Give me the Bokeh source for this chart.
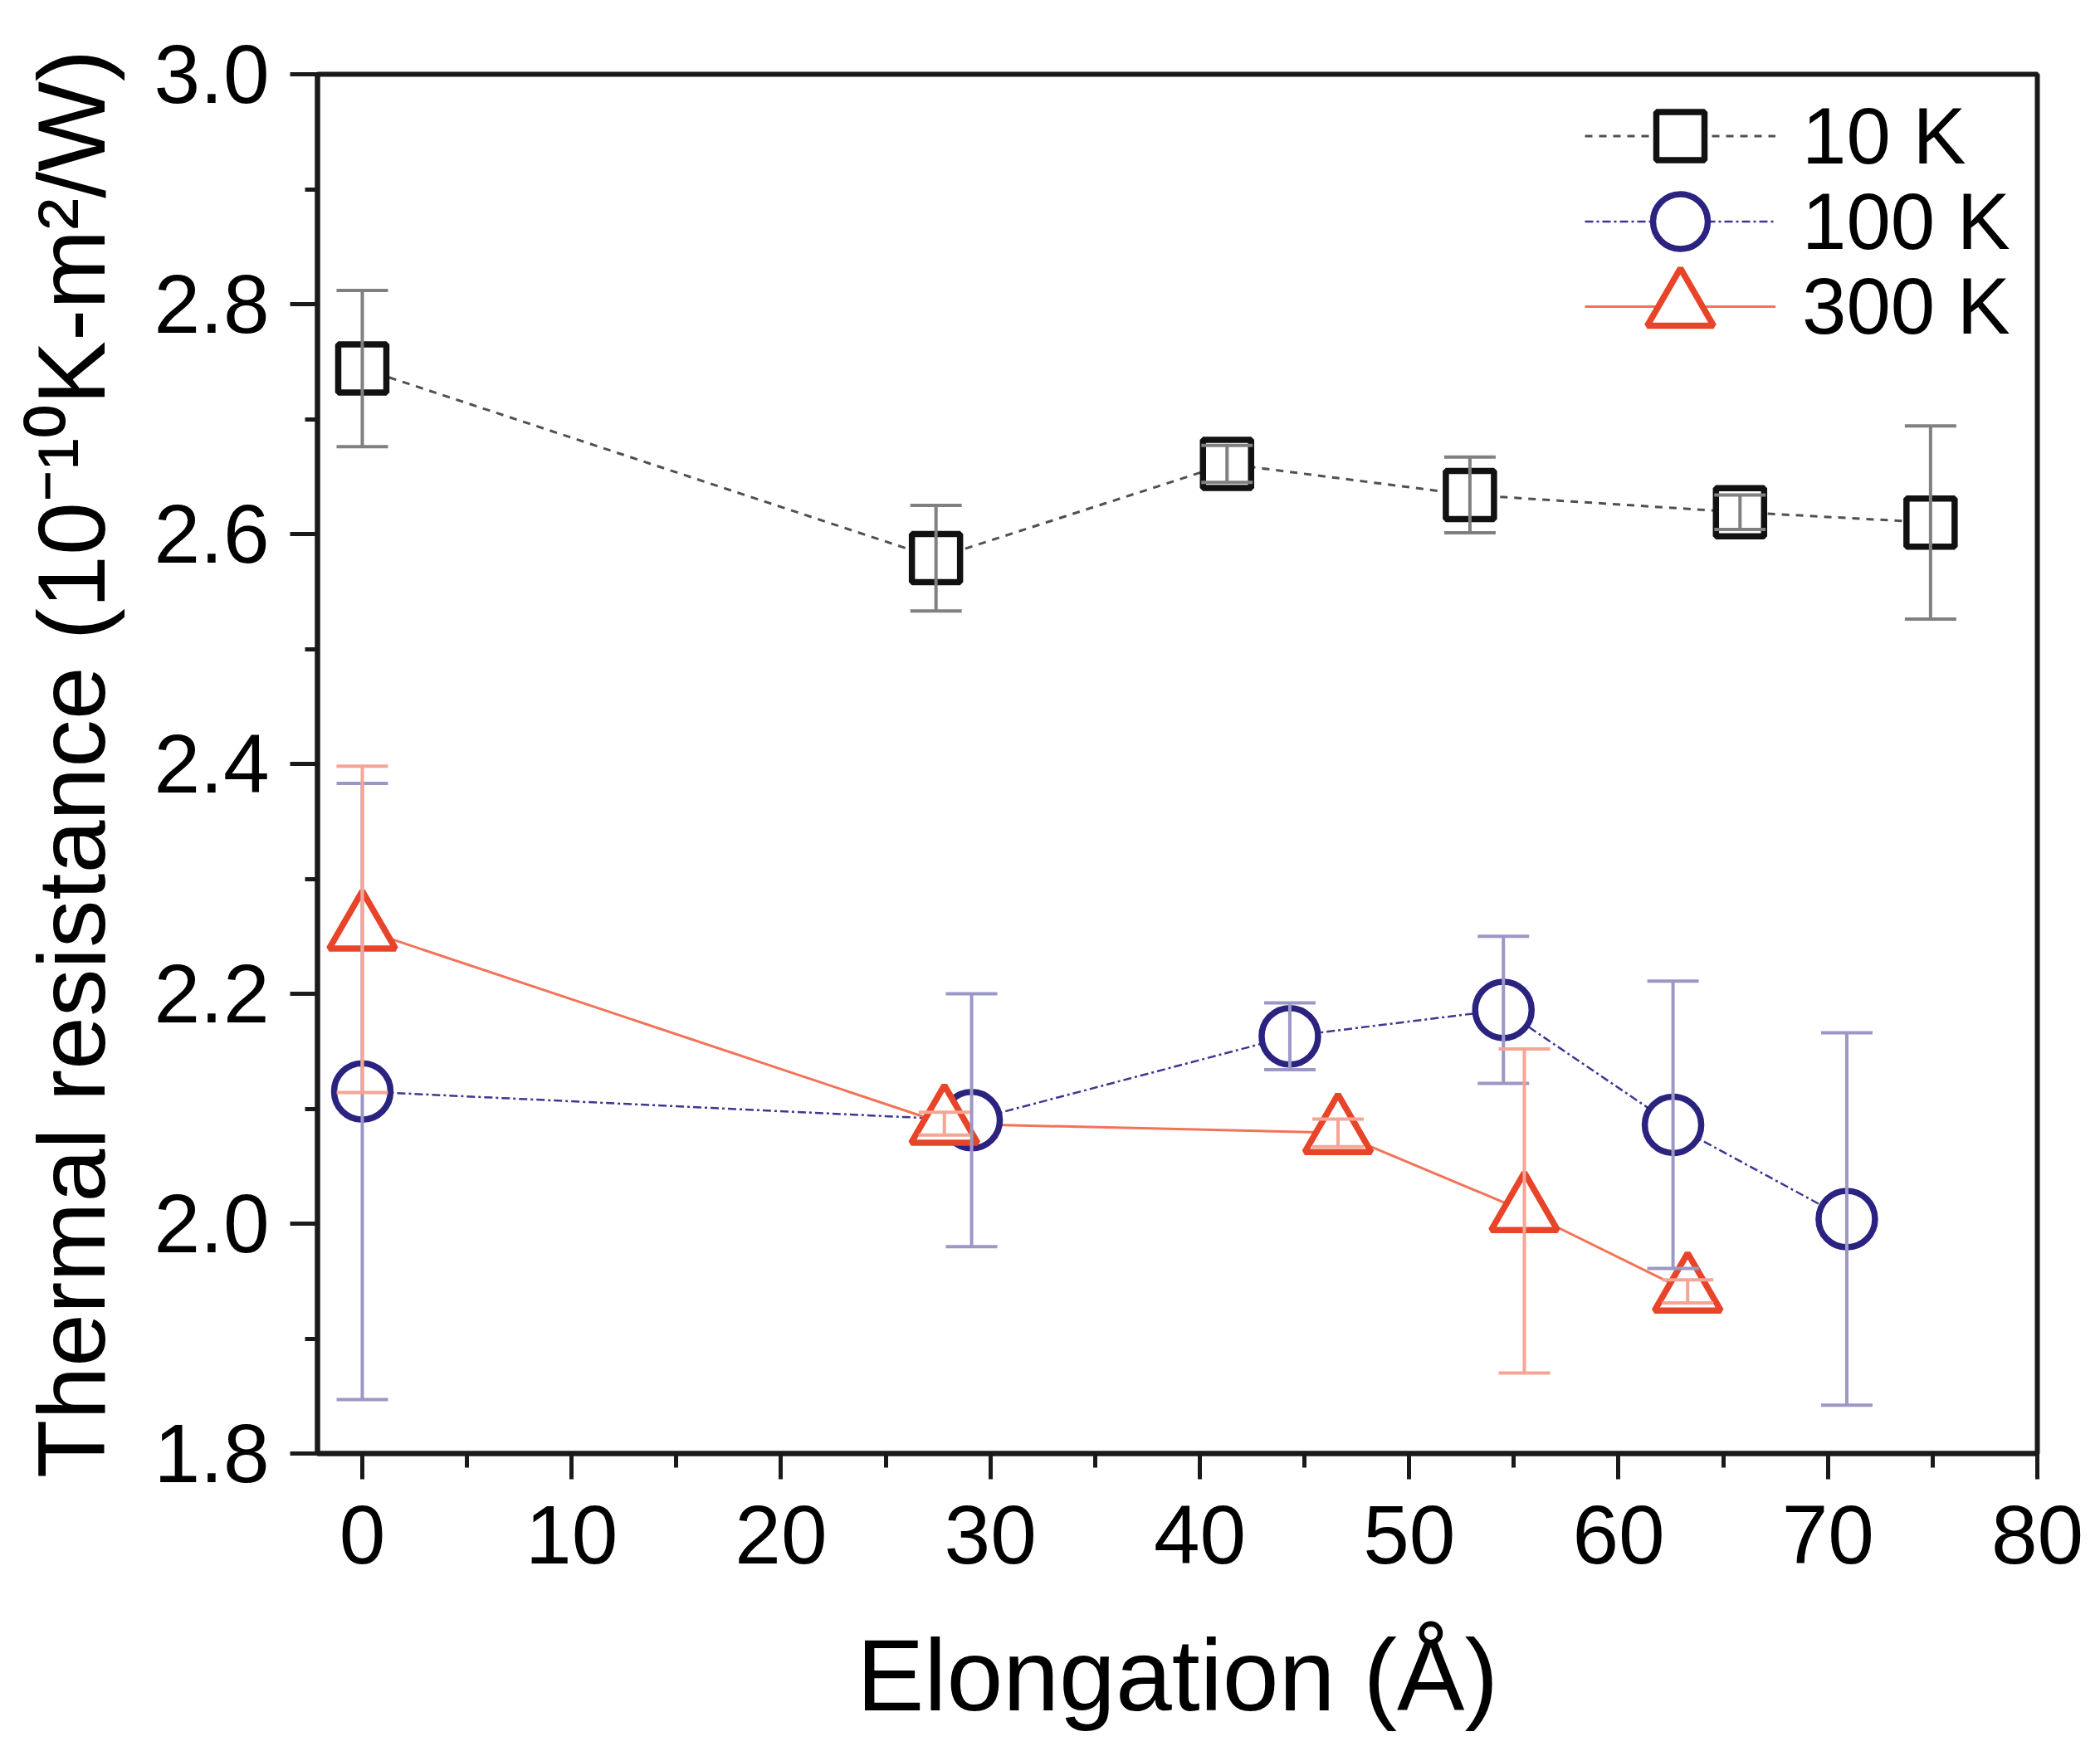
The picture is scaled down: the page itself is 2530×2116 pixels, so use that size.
from bokeh.plotting import figure
from bokeh.models import (ColumnDataSource, Whisker, TeeHead, Legend, LegendItem,
                          FixedTicker, NumeralTickFormatter, Range1d)
from bokeh.embed import file_html
from bokeh.resources import INLINE

# ---------------- data ----------------
x_10K = [0.0, 27.4, 41.3, 52.9, 65.8, 74.9]
y_10K = [2.744, 2.579, 2.661, 2.634, 2.619, 2.610]
e_10K = [0.068, 0.046, 0.016, 0.033, 0.015, 0.084]

x_100K = [0.0, 29.1, 44.3, 54.5, 62.6, 70.9]
y_100K = [2.115, 2.090, 2.163, 2.186, 2.086, 2.004]
e_100K = [0.268, 0.110, 0.029, 0.064, 0.125, 0.162]

x_300K = [0.0, 27.8, 46.6, 55.5, 63.3]
y_300K = [2.256, 2.087, 2.079, 2.011, 1.941]
e_300K = [0.142, 0.010, 0.012, 0.141, 0.010]

series_labels = ["10 K", "100 K", "300 K"]
x_ticks = [0, 10, 20, 30, 40, 50, 60, 70, 80]
x_minor = [5, 15, 25, 35, 45, 55, 65, 75]
y_ticks = [1.8, 2.0, 2.2, 2.4, 2.6, 2.8, 3.0]
y_minor = [1.9, 2.1, 2.3, 2.5, 2.7, 2.9]
x_title = "Elongation (Å)"
y_title = "Thermal resistance (10⁻¹⁰K-m²/W)"

FONT = "Liberation Sans"

p = figure(width=2514, height=2100,
           x_range=Range1d(-2.14, 80), y_range=Range1d(1.8, 3.0),
           output_backend="svg", toolbar_location=None,
           min_border_left=382, min_border_right=60,
           min_border_top=89, min_border_bottom=349)
p.grid.visible = False
p.background_fill_color = "white"
p.border_fill_color = "white"
p.outline_line_color = "#1a1a1a"
p.outline_line_width = 6

for ax in (p.xaxis[0], p.yaxis[0]):
    ax.axis_line_width = 6
    ax.axis_line_color = "#1a1a1a"
    ax.major_tick_in = 0
    ax.minor_tick_in = 0
    ax.major_tick_line_width = 5
    ax.minor_tick_line_width = 5
    ax.major_tick_line_color = "#1a1a1a"
    ax.minor_tick_line_color = "#1a1a1a"
    ax.major_label_text_font = FONT
    ax.major_label_text_font_size = "100px"
    ax.major_label_text_color = "black"
    ax.axis_label_text_font = FONT
    ax.axis_label_text_font_style = "normal"
    ax.axis_label_text_color = "black"

p.xaxis.axis_label_text_font_size = "122px"
p.yaxis.axis_label_text_font_size = "115px"
p.xaxis.ticker = FixedTicker(ticks=x_ticks, minor_ticks=x_minor)
p.yaxis.ticker = FixedTicker(ticks=y_ticks, minor_ticks=y_minor)
p.yaxis.formatter = NumeralTickFormatter(format="0.0")
p.xaxis.major_tick_out = 31
p.xaxis.minor_tick_out = 17
p.yaxis.major_tick_out = 33
p.yaxis.minor_tick_out = 15
p.xaxis.major_label_standoff = 32
p.yaxis.major_label_standoff = 25
p.xaxis.axis_label_standoff = 64
p.yaxis.axis_label_standoff = 32
p.xaxis.axis_label = x_title
p.yaxis.axis_label = y_title

specs = [
    dict(x=x_10K, y=y_10K, e=e_10K, marker="square", size=58, mcolor="#111111",
         lcolor="#505050", dash="9 8", lw=3, ecolor="#808080", gh=145, loc=(1527, 1515)),
    dict(x=x_100K, y=y_100K, e=e_100K, marker="circle", size=68, mcolor="#2b2380",
         lcolor="#3d3890", dash="10 4 3 4", lw=2.5, ecolor="#9c98c6", gh=165, loc=(1527, 1402)),
    dict(x=x_300K, y=y_300K, e=e_300K, marker="triangle", size=80, mcolor="#e8442a",
         lcolor="#f27358", dash="solid", lw=3, ecolor="#f5a596", gh=200, loc=(1527, 1282)),
]

line_rs, mark_rs, sources = [], [], []
for s in specs:
    src = ColumnDataSource(dict(
        x=s["x"], y=s["y"],
        upper=[a + b for a, b in zip(s["y"], s["e"])],
        lower=[a - b for a, b in zip(s["y"], s["e"])],
    ))
    sources.append(src)
    lr = p.line("x", "y", source=src, line_color=s["lcolor"], line_width=s["lw"],
                line_dash=s["dash"])
    line_rs.append(lr)

for s, src in zip(specs, sources):
    mr = p.scatter("x", "y", source=src, marker=s["marker"], size=s["size"],
                   fill_color="white", line_color=s["mcolor"], line_width=7.5)
    mark_rs.append(mr)

for s, src in zip(specs, sources):
    w = Whisker(source=src, base="x", upper="upper", lower="lower",
                line_color=s["ecolor"], line_width=4, level="annotation",
                upper_head=TeeHead(size=62, line_color=s["ecolor"], line_width=4),
                lower_head=TeeHead(size=62, line_color=s["ecolor"], line_width=4))
    p.add_layout(w)

for s, lab, lr, mr in zip(specs, series_labels, line_rs, mark_rs):
    leg = Legend(items=[LegendItem(label=lab, renderers=[lr, mr])],
                 location=s["loc"], glyph_width=230, glyph_height=s["gh"],
                 label_standoff=32, padding=0, margin=0, spacing=0,
                 border_line_color=None, background_fill_alpha=0,
                 label_text_font=FONT, label_text_font_size="96px",
                 label_text_color="black")
    p.add_layout(leg, "center")

open("out.html", "w").write(file_html(p, INLINE))
